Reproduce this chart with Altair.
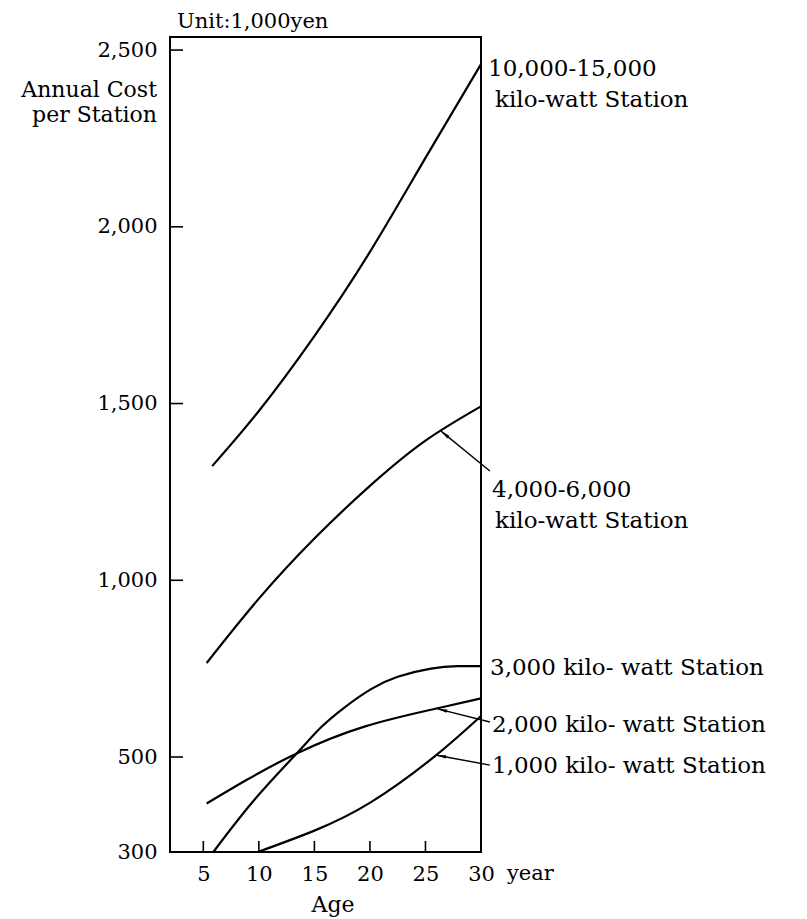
import math
import altair as alt
import pandas as pd

FONT = "DejaVu Serif"

# ---- data (age in years, annual cost in 1,000 yen) ----
series_names = ["10,000-15,000", "4,000-6,000", "3,000", "2,000", "1,000"]
age_10k = [5.8, 10, 15, 20, 25, 30]
cost_10k = [1323, 1479, 1691, 1929, 2195, 2460]
age_4k = [5.3, 10, 15, 20, 25, 30]
cost_4k = [766, 948, 1118, 1267, 1395, 1492]
age_3k = [5.9, 9.6, 13.4, 15.6, 17.7, 20.1, 22.5, 25.5, 27.9, 30]
cost_3k = [300, 410, 510, 584, 640, 692, 727, 750, 757, 757]
age_2k = [5.3, 9.0, 13.4, 19.5, 26.1, 30]
cost_2k = [402, 453, 510, 586, 638, 666]
age_1k = [9.9, 15, 20.1, 25.8, 30]
cost_1k = [300, 345, 405, 501, 616]

x_ticks = [5, 10, 15, 20, 25, 30]
y_ticks = [300, 500, 1000, 1500, 2000, 2500]

# curve labels (anchored in data space, to the right of the frame)
label_text = ["10,000-15,000", "kilo-watt Station", "4,000-6,000", "kilo-watt Station",
              "3,000  kilo- watt Station", "2,000  kilo- watt Station", "1,000  kilo- watt Station"]
label_age = [30.63, 31.26, 30.99, 31.26, 30.81, 30.99, 30.99]
label_cost = [2426, 2339, 1235, 1148, 732, 571, 466]

# leader arrows: head on the curve, tail at the label
arrow_head_age = [26.4, 26.1, 26.0]
arrow_head_cost = [1422, 636, 505]
arrow_tail_age = [30.8, 30.8, 30.8]
arrow_tail_cost = [1309, 599, 483]

# ---- layout ----
W, H = 311, 815
X_DOMAIN = [2, 30]
Y_DOMAIN = [300, 500, 2537]
Y_RANGE = [H, 720, 0]


def px(a):
    return (a - X_DOMAIN[0]) / (X_DOMAIN[1] - X_DOMAIN[0]) * W


def py(c):
    if c <= 500:
        return Y_RANGE[0] - (c - 300) / 200 * (Y_RANGE[0] - Y_RANGE[1])
    return Y_RANGE[1] - (c - 500) * Y_RANGE[1] / (Y_DOMAIN[2] - 500)


rows = []
for name, ages, costs in zip(series_names,
                             [age_10k, age_4k, age_3k, age_2k, age_1k],
                             [cost_10k, cost_4k, cost_3k, cost_2k, cost_1k]):
    for a, c in zip(ages, costs):
        rows.append({"series": name, "age": a, "cost": c})
lines_df = pd.DataFrame(rows)

labels_df = pd.DataFrame({"text": label_text, "age": label_age, "cost": label_cost})

arr_rows = []
for ha, hc, ta, tc in zip(arrow_head_age, arrow_head_cost, arrow_tail_age, arrow_tail_cost):
    dx = px(ha) - px(ta)
    dy = py(hc) - py(tc)
    ang = math.degrees(math.atan2(dx, -dy)) % 360
    arr_rows.append({"age": ha, "cost": hc, "age2": ta, "cost2": tc, "ang": ang})
arrows_df = pd.DataFrame(arr_rows)

xticks_df = pd.DataFrame({"age": x_ticks[:-1]})
yticks_df = pd.DataFrame({"cost": y_ticks[1:]})

xscale = alt.Scale(domain=X_DOMAIN, nice=False, zero=False)
yscale = alt.Scale(domain=Y_DOMAIN, range=Y_RANGE, nice=False, zero=False)

xaxis = alt.Axis(values=x_ticks, title=None, ticks=False, tickSize=0, domain=False, grid=False,
                 labelFont=FONT, labelFontSize=21, labelColor="black", labelPadding=11,
                 labelFlush=False, format="d")
yaxis = alt.Axis(values=y_ticks, format=",d", title=None, ticks=False, tickSize=0, domain=False,
                 grid=False, labelFont=FONT, labelFontSize=21, labelColor="black",
                 labelPadding=13, labelBaseline="middle")

curves = alt.Chart(lines_df).mark_line(interpolate="natural", color="black", strokeWidth=2.2).encode(
    x=alt.X("age:Q", scale=xscale, axis=xaxis),
    y=alt.Y("cost:Q", scale=yscale, axis=yaxis),
    detail="series:N",
)

xtick_marks = alt.Chart(xticks_df).mark_rule(color="black", strokeWidth=1.6).encode(
    x="age:Q", y=alt.value(H), y2=alt.value(H - 11)
)
ytick_marks = alt.Chart(yticks_df).mark_rule(color="black", strokeWidth=1.6).encode(
    y="cost:Q", x=alt.value(0), x2=alt.value(13)
)

labels = alt.Chart(labels_df).mark_text(
    align="left", baseline="alphabetic", font=FONT, fontSize=23, color="black"
).encode(x="age:Q", y="cost:Q", text="text:N")

arrow_lines = alt.Chart(arrows_df).mark_rule(color="black", strokeWidth=1.4).encode(
    x="age:Q", y="cost:Q", x2="age2:Q", y2="cost2:Q"
)
arrow_heads = alt.Chart(arrows_df).mark_point(
    shape="M0,0L0.35,2L-0.35,2Z", filled=True, color="black", size=90, opacity=1
).encode(x="age:Q", y="cost:Q", angle=alt.Angle("ang:Q", scale=None))

one = pd.DataFrame({"k": [0]})


def txt(s, x, y, align="left", size=20):
    return alt.Chart(one).mark_text(
        align=align, baseline="alphabetic", font=FONT, fontSize=size, color="black"
    ).encode(x=alt.value(x), y=alt.value(y), text=alt.value(s))


chart = alt.layer(
    curves,
    xtick_marks,
    ytick_marks,
    arrow_lines,
    arrow_heads,
    labels,
    txt("Unit:1,000yen", 7, -9, size=21),
    txt("Annual Cost", -13, 60, align="right", size=22),
    txt("per  Station", -13, 85, align="right", size=22),
    txt("year", 337, 843, size=21),
    txt("Age", 163, 875, align="center", size=22),
).properties(
    width=W,
    height=H,
    autosize=alt.AutoSizeParams(type="none"),
    padding={"left": 162, "top": 29, "right": 316, "bottom": 66},
).configure(
    background="white",
    view=alt.ViewConfig(stroke="black", strokeWidth=2),
)

chart.save("out.html", embed_options={"renderer": "svg", "actions": False})
